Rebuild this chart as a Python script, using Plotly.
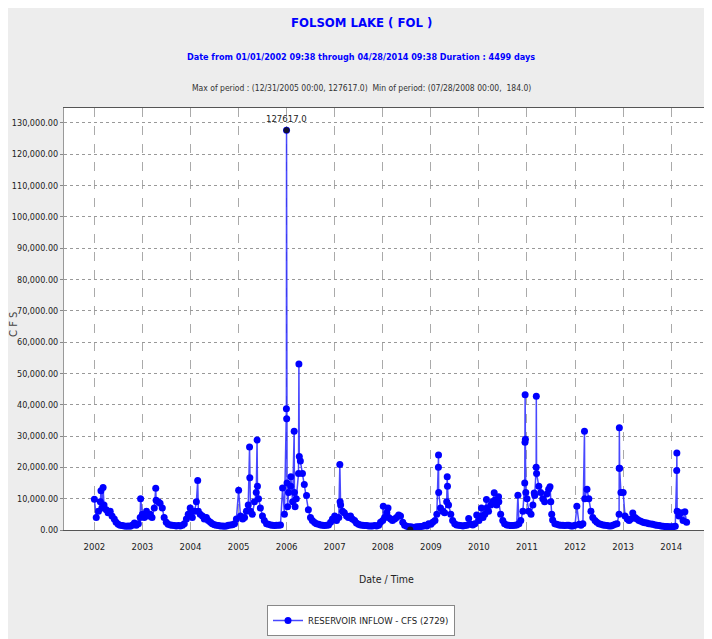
import pandas as pd
import plotly.graph_objects as go

# Semi-monthly readings (1st and 15th of each month), CFS
y2002 = [9800, 4000, 6000, 9000, 7000, 8000, 6500, 5500, 6000, 4500, 3500, 2500, 1800, 1500, 1400, 1300, 1200, 1300, 1200, 1500, 2200, 1500, 2000, 4000]
y2003 = [5000, 4000, 6000, 4500, 5000, 4000, 7000, 9500, 9000, 8500, 7000, 4000, 2500, 1800, 1600, 1500, 1400, 1300, 1400, 1300, 1500, 2000, 3500, 5000]
y2004 = [5500, 4000, 6000, 9000, 6000, 5000, 4500, 3500, 4000, 3000, 2500, 2000, 1700, 1500, 1400, 1300, 1300, 1200, 1300, 1500, 1600, 1700, 2000, 3500]
y2005 = [12700, 4500, 3500, 4000, 6000, 8000, 6000, 5000, 9000, 12000, 10000, 7000, 4500, 3000, 2000, 1800, 1600, 1500, 1400, 1500, 1500, 1600, 13400, 5000]
y2006 = [35500, 12000, 14000, 9000, 12000, 10000, 18000, 22000, 18000, 14500, 11000, 6500, 4000, 3000, 2400, 2000, 1800, 1600, 1500, 1400, 1500, 1600, 2500, 3500]
y2007 = [4500, 3000, 4000, 8000, 6000, 5500, 4500, 4000, 4500, 3500, 3000, 2200, 1800, 1600, 1500, 1400, 1400, 1300, 1300, 1300, 1400, 1300, 1500, 2500]
y2008 = [3000, 4000, 5500, 4000, 3500, 3000, 3500, 4000, 4800, 4500, 2500, 1500, 1200, 1000, 1000, 900, 900, 1000, 1000, 1100, 1200, 1500, 1300, 2000]
y2009 = [1800, 2500, 3000, 5000, 12000, 7000, 6000, 5500, 9000, 8000, 5000, 3000, 2000, 1600, 1500, 1400, 1300, 1400, 1500, 3700, 1800, 1600, 2000, 4800]
y2010 = [3000, 4500, 4000, 5000, 7000, 6000, 8000, 9000, 9500, 8000, 9000, 5000, 3000, 2000, 1600, 1500, 1400, 1400, 1500, 1600, 2000, 3000, 6000, 15000]
y2011 = [10000, 6000, 5000, 8000, 11000, 18000, 14000, 12000, 10000, 9000, 11500, 13000, 9000, 3200, 2000, 1800, 1600, 1500, 1500, 1400, 1500, 1500, 1300, 1300]
y2012 = [1500, 7600, 1800, 1500, 2000, 10000, 13000, 10000, 6000, 4000, 3000, 2500, 2000, 1800, 1600, 1500, 1400, 1300, 1300, 1500, 1800, 2000, 5000, 12000]
y2013 = [12000, 4500, 3500, 3000, 3500, 5400, 4000, 3500, 3000, 2800, 2500, 2300, 2200, 2000, 1900, 1800, 1600, 1500, 1400, 1300, 1200, 1100, 1100, 1000]
y2014 = [1000, 1000, 1200, 6000, 4500, 5500, 3000, 5800]

# Storm peaks / notable days
peak_dates = ["2002-02-20", "2002-03-08", "2002-12-18", "2003-04-12", "2003-12-30",
              "2004-02-25", "2005-03-25", "2005-03-27", "2005-05-21", "2005-05-24",
              "2005-12-30", "2005-12-31", "2006-01-04", "2006-01-08", "2006-02-02",
              "2006-02-27", "2006-03-06", "2006-04-04", "2006-04-07", "2007-02-09",
              "2007-02-11", "2008-01-05", "2008-02-10", "2008-07-28", "2009-02-27",
              "2009-02-28", "2009-05-05", "2009-05-07", "2010-01-20", "2010-02-27",
              "2010-04-27", "2010-05-30", "2010-10-24", "2010-12-17", "2010-12-18",
              "2010-12-20", "2010-12-23", "2011-02-25", "2011-03-12", "2011-03-13",
              "2011-06-25", "2011-07-08", "2012-03-13", "2012-12-02", "2012-12-03",
              "2012-12-05", "2014-02-12", "2014-02-13", "2014-04-28"]
peak_values = [12500, 13600, 10000, 13300, 7000,
               15800, 26500, 16700, 28700, 14000,
               38700, 127617, 15000, 7400, 17000,
               31500, 7400, 53000, 23500, 20900,
               9000, 7600, 7000, 184, 20000,
               23900, 17000, 14000, 7000, 9700,
               11900, 10600, 11100, 28000, 43200,
               29000, 12000, 11800, 20000, 42700,
               13800, 5000, 31500, 19700, 32600,
               19700, 19000, 24600, 2500]

max_date, max_value = "2005-12-31", 127617
min_date, min_value = "2008-07-28", 184

year_tick_labels = [str(y) for y in range(2002, 2015)]
y_tick_values = list(range(0, 130001, 10000))

base_vals = y2002 + y2003 + y2004 + y2005 + y2006 + y2007 + y2008 + y2009 + y2010 + y2011 + y2012 + y2013 + y2014
base_dates = pd.date_range("2002-01-01", periods=len(base_vals), freq="SMS")
s = pd.Series(base_vals, index=base_dates)
p = pd.Series(peak_values, index=pd.to_datetime(peak_dates))
s = pd.concat([s[~s.index.isin(p.index)], p]).sort_index()

BLUE = "#0000FF"
NARROW = "DejaVu Sans Condensed, Liberation Sans Narrow, Arial Narrow, Liberation Sans, sans-serif"

fig = go.Figure()
fig.add_trace(go.Scatter(
    x=s.index, y=s.values, mode="lines+markers",
    name="RESERVOIR INFLOW - CFS (2729)",
    line=dict(color="rgba(40,40,255,0.85)", width=1.5),
    marker=dict(color=BLUE, size=7, symbol="circle"),
))
fig.add_trace(go.Scatter(
    x=[max_date, min_date], y=[max_value, min_value], mode="markers",
    marker=dict(color="#111133", size=6), showlegend=False,
))

# the page body adds an 8px offset; page coordinates are converted to paper fractions
W_PLOT = 648
H_PLOT = 422
def px(xpix):
    return (xpix - 64) / W_PLOT
def py(ypix):
    return (530 - ypix) / H_PLOT

def label(text, xp, yp, size, color="#222", angle=0, family=NARROW):
    return dict(text=text, x=px(xp), y=py(yp), xref="paper", yref="paper",
                xanchor="center", yanchor="middle", textangle=angle,
                showarrow=False, font=dict(family=family, size=size, color=color))

fig.update_layout(
    width=704, height=631,
    margin=dict(l=56, r=0, t=100, b=109, autoexpand=False),
    paper_bgcolor="#EDEDED", plot_bgcolor="white",
    font=dict(family=NARROW, size=9, color="#222"),
    showlegend=True,
    legend=dict(x=px(361), xanchor="center", y=py(605), yanchor="top",
                bgcolor="white", bordercolor="#888", borderwidth=1,
                font=dict(family=NARROW, size=9.5, color="#222")),
    xaxis=dict(
        type="date", range=["2001-05-15", "2014-11-07"], automargin=False,
        tickvals=[f"{y}-01-01" for y in year_tick_labels], ticktext=year_tick_labels,
        showgrid=True, gridcolor="#AAAAAA", griddash="dash", gridwidth=1,
        ticks="outside", ticklen=8, tickcolor="rgba(0,0,0,0)",
        showline=True, linecolor="#555", mirror=True, zeroline=False,
        tickfont=dict(family=NARROW, size=9.5, color="#222"),
    ),
    yaxis=dict(
        range=[0, 134700], tickvals=y_tick_values, tickformat=",.2f", automargin=False,
        showgrid=True, gridcolor="#999999", griddash="dot", gridwidth=1,
        ticks="outside", ticklen=3, tickcolor="#888",
        showline=True, linecolor="#999", mirror=True, zeroline=False,
        tickfont=dict(family=NARROW, size=9, color="#222"),
    ),
    annotations=[
        label("<b>FOLSOM LAKE ( FOL )</b>", 361, 22, 13, BLUE),
        label("<b>Date from 01/01/2002 09:38 through 04/28/2014 09:38 Duration : 4499 days</b>",
              361, 57, 9, BLUE),
        label("Max of period : (12/31/2005 00:00, 127617.0)  Min of period: (07/28/2008 00:00,  184.0)",
              361, 88, 8.5, "#333"),
        label("C F S", 13, 325, 10, "#444", angle=-90, family="DejaVu Sans, sans-serif"),
        label("Date / Time", 386, 579, 10.5),
        dict(text=f"{max_value:.1f}", x=max_date, y=max_value, xref="x", yref="y",
             xanchor="center", yanchor="middle", yshift=12, showarrow=False,
             font=dict(family=NARROW, size=9.5, color="#222")),
    ],
)

fig.write_html("out.html")
